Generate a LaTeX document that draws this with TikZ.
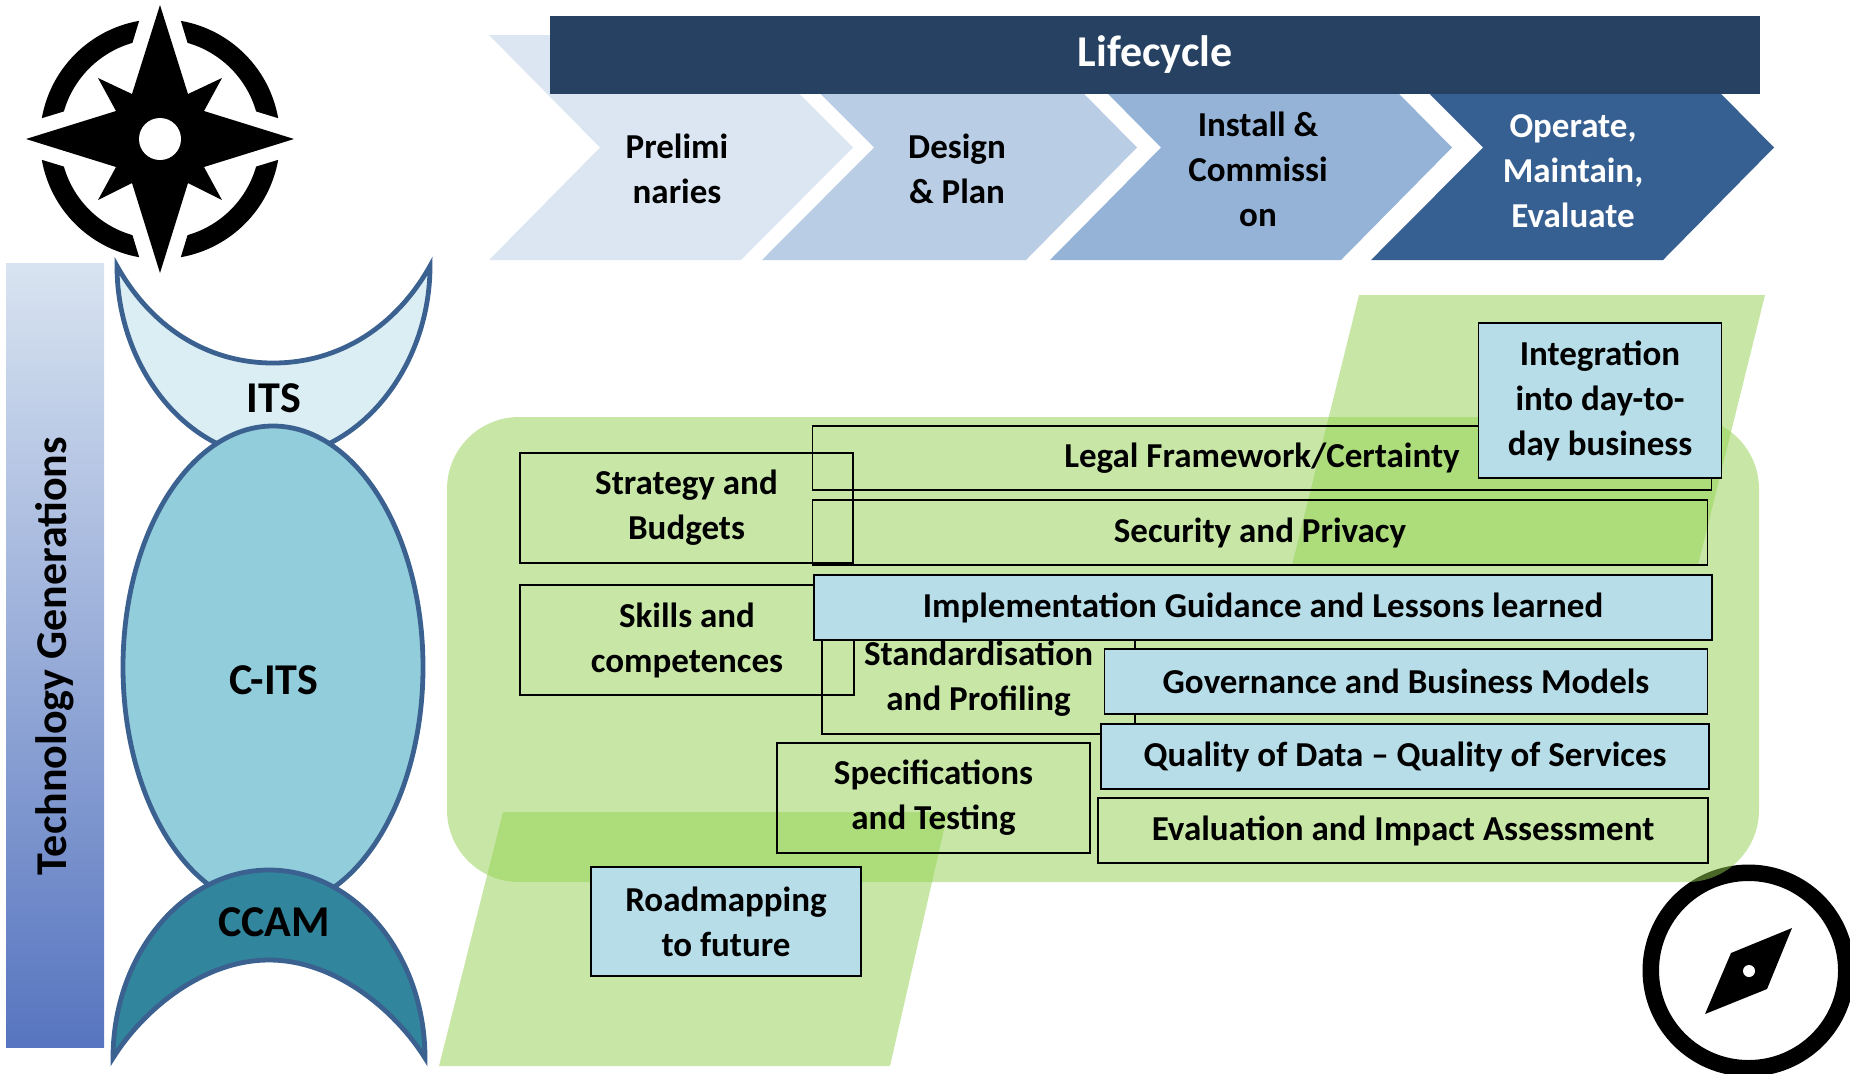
\documentclass[tikz,border=0pt]{standalone}
\usepackage{fontspec}
\setmainfont{Carlito}
\usetikzlibrary{shapes.geometric}

\definecolor{lifeA}{HTML}{DCE6F2}
\definecolor{lifeB}{HTML}{B9CDE5}
\definecolor{lifeC}{HTML}{95B3D7}
\definecolor{lifeD}{HTML}{376092}
\definecolor{lifeTop}{HTML}{264161}
\definecolor{moonEdge}{HTML}{3B6190}
\definecolor{itsFill}{HTML}{DBEEF4}
\definecolor{citsFill}{HTML}{92CDDC}
\definecolor{ccamFill}{HTML}{31859C}
\definecolor{fieldGreen}{HTML}{92D050}
\definecolor{boxBlue}{HTML}{B7DDE8}

\tikzset{
  label16/.style={font=\fontsize{17.5}{22.5}\selectfont\bfseries,align=center,inner sep=0pt},
  label20/.style={font=\fontsize{22}{26}\selectfont\bfseries,align=center,inner sep=0pt},
  field/.style={fill=fieldGreen,fill opacity=0.5},
  moon/.style={draw=moonEdge,line width=2.4pt,line join=miter},
  topicbox/.style={draw=black,line width=0.9pt,inner sep=0pt,outer sep=0pt,align=center,
    font=\fontsize{17.5}{22.5}\selectfont\bfseries},
  actionbox/.style={topicbox,fill=boxBlue}
}

\begin{document}
\begin{tikzpicture}[x=0.5pt,y=-0.5pt]
\useasboundingbox (0,0) rectangle (1850,1073);

\begin{scope}
  \clip (0,0) rectangle (1850,1073);
  \fill (160,5) -- (188,94) -- (222,78) -- (204,111) -- (294,139) -- (204,167) -- (222,200)
    -- (188,183) -- (160,273) -- (132,183) -- (98,200) -- (116,167) -- (26,139) -- (116,111)
    -- (98,78) -- (132,94) -- cycle;
  \fill[white] (160,139) circle (21);
  \foreach \a in {0,90,180,270}
    \fill[shift={(160,139)},rotate=\a] (100:120) arc (100:170:120) -- (164:100) arc (164:106:100) -- cycle;

  \draw[line width=8.25pt] (1748.5,970.5) circle (97.75);
  \fill (1792,928) -- (1767,989) -- (1705,1014) -- (1731,953) -- cycle;
  \fill[white] (1749,971) circle (6);
\end{scope}

\fill[lifeA] (489,35) -- (741,35) -- (853,147.5) -- (741,260) -- (489,260) -- (600,147.5) -- cycle;
\fill[lifeB] (762,35) -- (1026,35) -- (1137,147.5) -- (1026,260) -- (762,260) -- (874,147.5) -- cycle;
\fill[lifeC] (1050,35) -- (1341,35) -- (1452,147.5) -- (1341,260) -- (1050,260) -- (1161,147.5) -- cycle;
\fill[lifeD] (1371,35) -- (1663,35) -- (1774,147.5) -- (1663,260) -- (1371,260) -- (1483,147.5) -- cycle;
\fill[lifeTop] (550,16) rectangle (1760,94);

\node[label20,text=white] (lifecycle) at (1155,55) {Lifecycle};
\node[label16] (prelim) at (677,169) {Prelimi\\naries};
\node[label16] (design) at (957,169) {Design\\\& Plan};
\node[label16] (install) at (1258,169) {Install \&\\Commissi\\on};
\node[label16,text=white] (operate) at (1573,171) {Operate,\\Maintain,\\Evaluate};

\shade[top color=lifeA!90!lifeB,bottom color=lifeD!50!lifeC!85!blue] (6,263) rectangle (104,1047);
\node[label20,rotate=90] (generations) at (55,656) {Technology Generations};

\path[moon,fill=itsFill] (117,266) .. controls (150,325) and (205,363) .. (273,363)
  .. controls (341,363) and (397,325) .. (430,266)
  .. controls (430,370) and (356,457) .. (273,457)
  .. controls (190,457) and (117,370) .. (117,266) -- cycle;
\node[label20] (its) at (274,398) {ITS};
\node[moon,fill=citsFill,ellipse,inner sep=0pt,minimum width=150pt,minimum height=241pt] (cits) at (273,667) {};
\node[label20] (citslabel) at (274,680) {C-ITS};
\path[moon,fill=ccamFill] (113,1058) .. controls (113,955) and (183,870) .. (269,870)
  .. controls (355,870) and (425,955) .. (425,1058)
  .. controls (395,1010) and (335,960) .. (269,960)
  .. controls (203,960) and (143,1010) .. (113,1058) -- cycle;
\node[label20] (ccam) at (274,922) {CCAM};

\fill[field,rounded corners=36pt] (447,417) rectangle (1759,882);
\fill[field] (1359,295) -- (1765,295) -- (1698,565) -- (1292,565) -- cycle;
\fill[field] (503,812) -- (948,812) -- (890,1066) -- (439,1066) -- cycle;

\begin{scope}[every node/.style={topicbox}]
  \node[minimum width=166.5pt,minimum height=55pt] (strategy) at (686.5,508) {Strategy and\\Budgets};
  \node[minimum width=449.5pt,minimum height=32pt] (legal) at (1262,458) {Legal Framework/Certainty};
  \node[minimum width=447.5pt,minimum height=32.5pt] (security) at (1260,532.5) {Security and Privacy};
  \node[minimum width=167pt,minimum height=55pt] (skills) at (687,640) {Skills and\\competences};
  \node[minimum width=156.5pt,minimum height=55pt] (standard) at (978.5,679) {Standardisation\\and Profiling};
  \node[minimum width=156.5pt,minimum height=55pt] (specs) at (933.5,798) {Specifications\\and Testing};
  \node[minimum width=305pt,minimum height=32.5pt] (evaluation) at (1403,830.5) {Evaluation and Impact Assessment};
\end{scope}

\begin{scope}[every node/.style={actionbox}]
  \node[minimum width=449pt,minimum height=32.5pt] (guidance) at (1263,607.5) {Implementation Guidance and Lessons learned};
  \node[minimum width=301.5pt,minimum height=32.5pt] (governance) at (1406,681.5) {Governance and Business Models};
  \node[minimum width=304pt,minimum height=32.5pt] (quality) at (1405,756.5) {Quality of Data -- Quality of Services};
  \node[minimum width=135pt,minimum height=54.5pt] (roadmap) at (726,921.5) {Roadmapping\\to future};
  \node[minimum width=121.5pt,minimum height=77.5pt] (integration) at (1600,400.5) {Integration\\into day-to-\\day business};
\end{scope}
\end{tikzpicture}
\end{document}
